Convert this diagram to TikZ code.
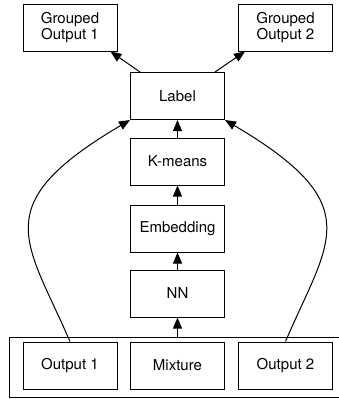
\documentclass[tikz,border=0pt]{standalone}
\usepackage{fontspec}
\setmainfont{TeX Gyre Heros}
\usetikzlibrary{arrows.meta}
\tikzstyle{block}=[draw, line width=1pt, minimum width=94pt, minimum height=47pt, align=center, inner sep=1pt, font=\fontsize{15}{16.5}\selectfont]
\tikzstyle{flow}=[line width=1pt, -{Triangle[length=11pt,width=9pt]}]
\newcommand{\block}{\node[block]}

\begin{document}
\begin{tikzpicture}[x=1pt, y=-1pt]
    \useasboundingbox (0,0) rectangle (339,399);
    \block (go1) at (70,27.5) {Grouped\\Output 1};
    \block (go2) at (285.5,27.5) {Grouped\\Output 2};
    \block (label) at (177.5,96) {Label};
    \block (kmeans) at (177.5,161.5) {K-means};
    \block (embed) at (177.5,228.5) {Embedding};
    \block (nn) at (177.5,293.5) {NN};
    \block (out1) at (70,365.5) {Output 1};
    \block (mix) at (177.5,365.5) {Mixture};
    \block (out2) at (285.5,365.5) {Output 2};
    % input frame, open at the right edge
    \draw[line width=1pt] (339,337) -| (9,397) -- (339,397);
    \coordinate (frametop) at (177.5,337);
    \path[flow]
        (frametop) edge (nn.south)
        (nn.north) edge (embed.south)
        (embed.north) edge (kmeans.south)
        (kmeans.north) edge (label.south)
        ([xshift=10pt]label.north west) edge ([xshift=-7pt]go1.south east)
        ([xshift=-10pt]label.north east) edge ([xshift=7pt]go2.south west)
    ;
    \draw[flow] (out1.north) .. controls (26,240) and (-14,205) .. (label.south west);
    \draw[flow] (out2.north) .. controls (329,240) and (369,205) .. (label.south east);
\end{tikzpicture}
\end{document}
